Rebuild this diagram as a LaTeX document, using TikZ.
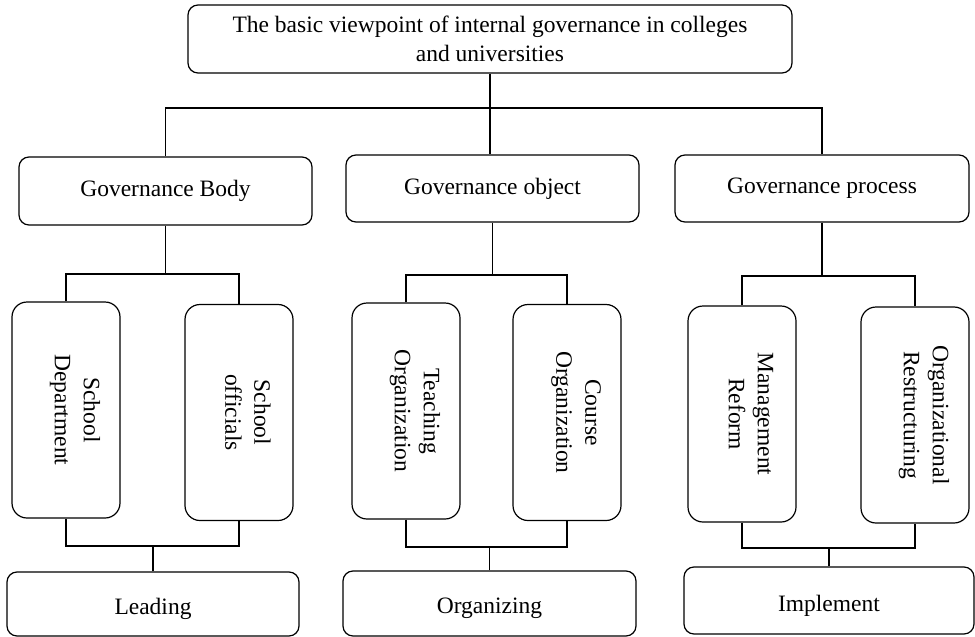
\documentclass[tikz,border=0pt]{standalone}
\usepackage{fontspec}
\setmainfont{Liberation Serif}
\begin{document}
\begin{tikzpicture}[x=1pt,y=-1pt,line width=1.2pt,
  box/.style={draw,rounded corners=10pt,inner sep=0pt,align=center},
  vbox/.style={draw,rounded corners=15pt,inner sep=0pt,minimum width=108pt,minimum height=216pt},
  lbl/.style={font=\fontsize{23.5}{29}\selectfont,align=center,inner sep=0pt},
  vlbl/.style={lbl,xshift=9pt,rotate=-90}]
\useasboundingbox (0,0) rectangle (975,637);
% level 1
\node[box,minimum width=604pt,minimum height=68pt,lbl,draw] (top) at (490,39)
  {The basic viewpoint of internal governance in colleges\\and universities};
% level 2
\node[box,lbl,draw,minimum width=293pt,minimum height=68pt] (b1) at (165.5,191) {Governance Body};
\node[box,lbl,draw,minimum width=293pt,minimum height=67pt] (b2) at (492.5,188.5) {Governance object};
\node[box,lbl,draw,minimum width=294pt,minimum height=67pt] (b3) at (822,188.5) {Governance process};
% level 3
\node[vbox] (c1) at (66,410) {};
\node[vbox] (c2) at (239,412.5) {};
\node[vbox] (c3) at (406,411) {};
\node[vbox] (c4) at (567,412.5) {};
\node[vbox] (c5) at (742,414) {};
\node[vbox] (c6) at (915,415) {};
\node[vlbl] (t1) at (c1.center) {School\\Department};
\node[vlbl] (t2) at (c2.center) {School\\officials};
\node[vlbl] (t3) at (c3.center) {Teaching\\Organization};
\node[vlbl] (t4) at (c4.center) {Course\\Organization};
\node[vlbl] (t5) at (c5.center) {Management\\Reform};
\node[vlbl] (t6) at (c6.center) {Organizational\\Restructuring};
% bottom
\node[box,minimum width=292pt,minimum height=64pt] (d1) at (153,604) {};
\node[box,minimum width=293pt,minimum height=65pt] (d2) at (489.5,603.5) {};
\node[box,minimum width=290pt,minimum height=67pt] (d3) at (829,600.5) {};
\node[lbl,yshift=-5pt] (u1) at (d1.center) {Leading};
\node[lbl,yshift=-5pt] (u2) at (d2.center) {Organizing};
\node[lbl,yshift=-5pt] (u3) at (d3.center) {Implement};
% junction coordinates
\coordinate (j0) at (490,108);
\coordinate (j1) at (164,274);
\coordinate (j2) at (492,275);
\coordinate (j3) at (822,276);
\coordinate (k1) at (153,546);
\coordinate (k2) at (490,547);
\coordinate (k3) at (830,548);
% connectors level 1 -> 2
\draw (top.south) -- (top.south |- b2.north);
\draw (b1.north) -- (b1.north |- j0) -- (b3.north |- j0) -- (b3.north);
% level 2 -> 3
\draw (b1.south) -- (b1.south |- j1);
\draw (c1.north) -- (c1.north |- j1) -- (c2.north |- j1) -- (c2.north);
\draw (b2.south) -- (b2.south |- j2);
\draw (c3.north) -- (c3.north |- j2) -- (c4.north |- j2) -- (c4.north);
\draw (b3.south) -- (b3.south |- j3);
\draw (c5.north) -- (c5.north |- j3) -- (c6.north |- j3) -- (c6.north);
% level 3 -> bottom
\draw (c1.south) -- (c1.south |- k1) -- (c2.south |- k1) -- (c2.south);
\draw (d1.north) -- (d1.north |- k1);
\draw (c3.south) -- (c3.south |- k2) -- (c4.south |- k2) -- (c4.south);
\draw (d2.north) -- (d2.north |- k2);
\draw (c5.south) -- (c5.south |- k3) -- (c6.south |- k3) -- (c6.south);
\draw (d3.north) -- (d3.north |- k3);
\end{tikzpicture}
\end{document}
